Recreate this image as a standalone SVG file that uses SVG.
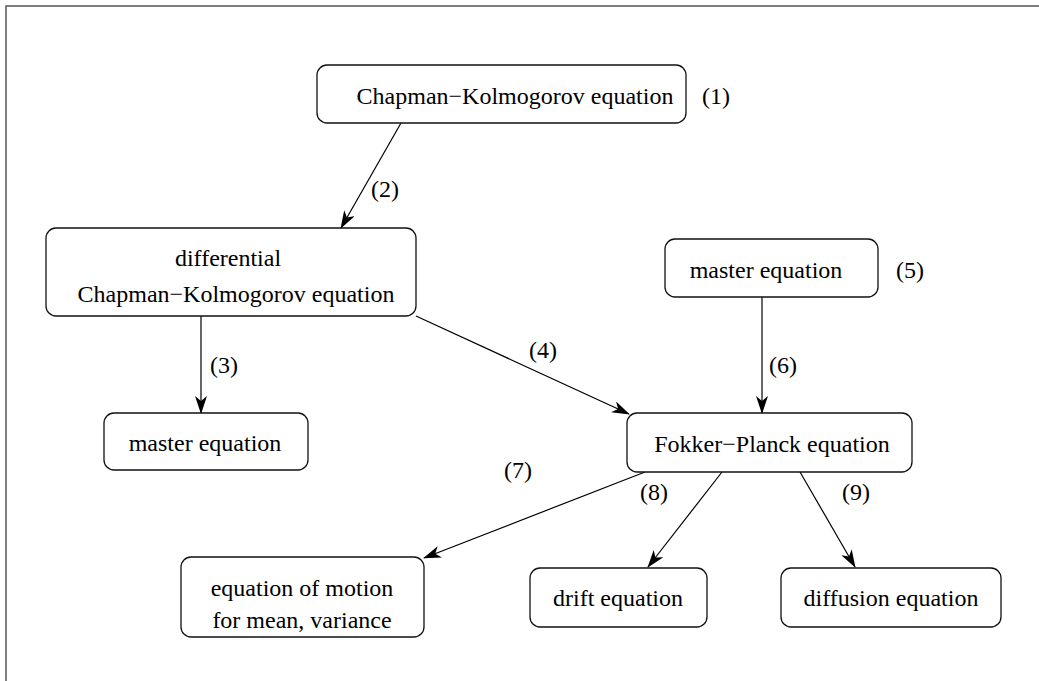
<svg xmlns="http://www.w3.org/2000/svg" width="1039" height="681" viewBox="0 0 1039 681">
<style>
.frame{fill:none;stroke:#555;stroke-width:1.5}
.box{fill:#fff;stroke:#111;stroke-width:1.3}
.edge{fill:none;stroke:#000;stroke-width:1.2;marker-end:url(#ah)}
</style>
<defs>
<marker id="ah" viewBox="0 0 18 12" refX="17" refY="6" markerWidth="18" markerHeight="12" markerUnits="userSpaceOnUse" orient="auto">
<path d="M0,0 L18,6 L0,12 L5,6 Z" fill="#000"/>
</marker>
</defs>
<rect class="frame" x="6" y="6" width="1040" height="680"/>
<g font-family="Liberation Serif, Times New Roman, Times, serif" font-size="24" text-anchor="middle" fill="#000">
<g id="edges">
<line class="edge" x1="401" y1="123" x2="341" y2="228"/>
<line class="edge" x1="201" y1="316" x2="201" y2="413"/>
<line class="edge" x1="416" y1="316" x2="629" y2="414"/>
<line class="edge" x1="762" y1="297" x2="762" y2="413"/>
<line class="edge" x1="645" y1="472" x2="424" y2="558"/>
<line class="edge" x1="722" y1="472" x2="648" y2="567"/>
<line class="edge" x1="800" y1="472" x2="855" y2="567"/>
<text x="385" y="197">(2)</text>
<text x="224" y="373">(3)</text>
<text x="543" y="358">(4)</text>
<text x="783" y="373">(6)</text>
<text x="518" y="478">(7)</text>
<text x="654" y="500">(8)</text>
<text x="856" y="500">(9)</text>
</g>
<g id="n1">
<rect class="box" x="317" y="65" width="369" height="58" rx="10"/>
<text x="515" y="104">Chapman−Kolmogorov equation</text>
<text x="716" y="104">(1)</text>
</g>
<g id="n2">
<rect class="box" x="46" y="228" width="370" height="88" rx="10"/>
<text x="228" y="266">differential</text>
<text x="236" y="302">Chapman−Kolmogorov equation</text>
</g>
<g id="n3">
<rect class="box" x="104" y="413" width="204" height="57" rx="10"/>
<text x="205" y="451">master equation</text>
</g>
<g id="n4">
<rect class="box" x="665" y="239" width="213" height="58" rx="10"/>
<text x="766" y="278">master equation</text>
<text x="910" y="278">(5)</text>
</g>
<g id="n5">
<rect class="box" x="627" y="413" width="285" height="59" rx="10"/>
<text x="772" y="452">Fokker−Planck equation</text>
</g>
<g id="n6">
<rect class="box" x="181" y="557" width="243" height="80" rx="10"/>
<text x="302" y="596">equation of motion</text>
<text x="302" y="628">for mean, variance</text>
</g>
<g id="n7">
<rect class="box" x="530" y="568" width="177" height="59" rx="10"/>
<text x="618" y="606">drift equation</text>
</g>
<g id="n8">
<rect class="box" x="781" y="568" width="220" height="59" rx="10"/>
<text x="891" y="606">diffusion equation</text>
</g>
</g>
</svg>
